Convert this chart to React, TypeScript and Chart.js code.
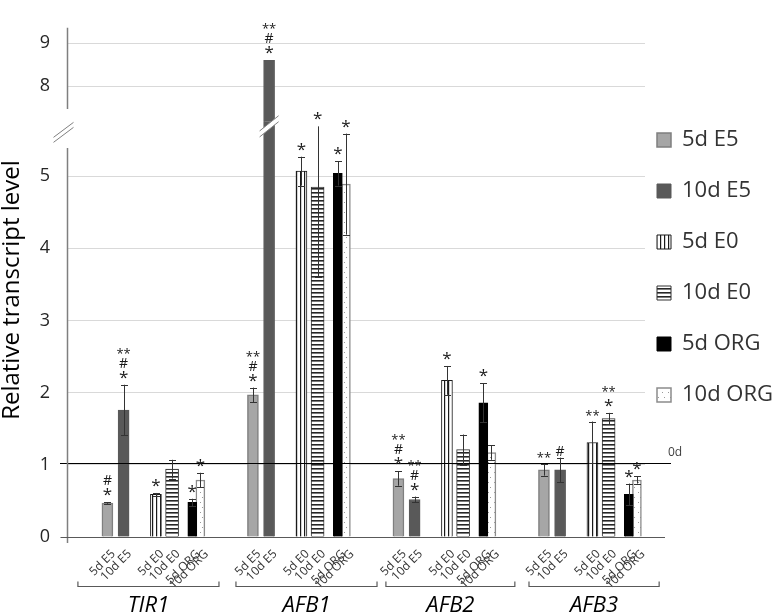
import React, { useEffect, useRef } from 'react';
import { Chart, registerables } from 'chart.js';

Chart.register(...registerables);

// ---------------- data ----------------
const genes = ['TIR1', 'AFB1', 'AFB2', 'AFB3'];
const seriesNames = ['5d E5', '10d E5', '5d E0', '10d E0', '5d ORG', '10d ORG'];

// values per gene (TIR1, AFB1, AFB2, AFB3)
const values5dE5 = [0.47, 1.97, 0.81, 0.93];
const values10dE5 = [1.76, 8.6, 0.52, 0.93];
const values5dE0 = [0.59, 5.07, 2.17, 1.31];
const values10dE0 = [0.94, 4.85, 1.21, 1.64];
const values5dORG = [0.48, 5.04, 1.86, 0.59];
const values10dORG = [0.79, 4.89, 1.17, 0.79];

// standard errors
const err5dE5 = [0.01, 0.1, 0.1, 0.08];
const err10dE5 = [0.35, 0, 0.04, 0.17];
const err5dE0 = [0.02, 0.2, 0.2, 0.29];
const err10dE0 = [0.13, 1.25, 0.21, 0.08];
const err5dORG = [0.05, 0.17, 0.27, 0.15];
const err10dORG = [0.1, 0.7, 0.1, 0.05];

// significance marks (listed top to bottom)
const sig5dE5 = [['#', '*'], ['**', '#', '*'], ['**', '#', '*'], ['**']];
const sig10dE5 = [['**', '#', '*'], ['**', '#', '*'], ['**', '#', '*'], ['#']];
const sig5dE0 = [['*'], ['*'], ['*'], ['**']];
const sig10dE0 = [[], ['*'], [], ['**', '*']];
const sig5dORG = [['*'], ['*'], ['*'], ['*']];
const sig10dORG = [['*'], ['*'], [], ['*']];

const lowerTicks = [0, 1, 2, 3, 4, 5];
const upperTicks = [8, 9];
const referenceLevel = 1.03; // "0d" reference line
const referenceLabel = '0d';
const yTitle = 'Relative transcript level';

// ---------------- layout constants ----------------
const SLOT_COUNT = 144;
const GENE_START = 10;
const GENE_SPAN = 36;
const SLOT_OFFSETS = [0, 4, 12, 16, 21, 23];
const BAR_WIDTHS = [11, 11, 11, 13, 9, 9];
const BRACKETS = [[2.7, 37.6], [41.8, 76.7], [78.9, 110.8], [114.3, 146.5]];
const LOWER_MIN = 0, LOWER_MAX = 5.76;
const UPPER_MIN = 7.18, UPPER_MAX = 9.36;
const LOWER_AXIS_TOP = 5.39, UPPER_AXIS_BOTTOM = 7.47;
const FONT = "'Open Sans', 'Noto Sans', sans-serif";

const allValues = [values5dE5, values10dE5, values5dE0, values10dE0, values5dORG, values10dORG];
const allErrors = [err5dE5, err10dE5, err5dE0, err10dE0, err5dORG, err10dORG];
const allSigs = [sig5dE5, sig10dE5, sig5dE0, sig10dE0, sig5dORG, sig10dORG];

function slotIndex(g: number, k: number) {
  return GENE_START + g * GENE_SPAN + SLOT_OFFSETS[k];
}

function buildLabels() {
  const labels: string[] = new Array(SLOT_COUNT).fill('');
  genes.forEach((_, g) => seriesNames.forEach((n, k) => { labels[slotIndex(g, k)] = n; }));
  return labels;
}

function buildSeriesData(k: number) {
  const arr: (number | null)[] = new Array(SLOT_COUNT).fill(null);
  genes.forEach((_, g) => { arr[slotIndex(g, k)] = allValues[k][g]; });
  return arr;
}

function makePattern(ctx: CanvasRenderingContext2D, kind: string) {
  const c = document.createElement('canvas');
  const g = c.getContext('2d')!;
  if (kind === 'v') {
    c.width = 4; c.height = 4;
    g.fillStyle = '#ffffff'; g.fillRect(0, 0, 4, 4);
    g.fillStyle = '#1a1a1a'; g.fillRect(0, 0, 1.2, 4);
  } else if (kind === 'h') {
    c.width = 4; c.height = 4;
    g.fillStyle = '#ffffff'; g.fillRect(0, 0, 4, 4);
    g.fillStyle = '#262626'; g.fillRect(0, 0, 4, 1.6);
  } else {
    c.width = 6; c.height = 10;
    g.fillStyle = '#ffffff'; g.fillRect(0, 0, 6, 10);
    g.fillStyle = '#9a9a9a'; g.fillRect(2, 2, 1, 1); g.fillRect(4, 7, 1, 1);
  }
  return ctx.createPattern(c, 'repeat')!;
}

const MARK_STYLE: Record<string, { size: number; adv: number }> = {
  '*': { size: 17, adv: 15 },
  '#': { size: 14, adv: 10 },
  '**': { size: 13, adv: 10 },
};

const annotationPlugin = {
  id: 'annotations',
  afterDatasetsDraw(chart: any) {
    const ctx: CanvasRenderingContext2D = chart.ctx;
    const yL = chart.scales.y;
    const yT = chart.scales.yTop;

    // reference line
    const ry = Math.round(yL.getPixelForValue(referenceLevel)) + 0.5;
    ctx.save();
    ctx.strokeStyle = '#000000';
    ctx.lineWidth = 1.2;
    ctx.beginPath();
    ctx.moveTo(yL.right - 7, ry);
    ctx.lineTo(671, ry);
    ctx.stroke();
    ctx.fillStyle = '#404040';
    ctx.font = `12px ${FONT}`;
    ctx.textAlign = 'left';
    ctx.textBaseline = 'middle';
    ctx.fillText(referenceLabel, 668, ry - 11);

    // broken bar marker on tall bars
    seriesNames.forEach((_, k) => {
      const meta = chart.getDatasetMeta(k);
      genes.forEach((__, g) => {
        const v = allValues[k][g];
        if (v <= LOWER_MAX) return;
        const el = meta.data[slotIndex(g, k)];
        if (!el) return;
        const cx = el.x, hw = el.width / 2 + 4;
        const cy = yL.top + 5;
        ctx.fillStyle = '#ffffff';
        ctx.beginPath();
        ctx.moveTo(cx - hw, cy - 3 + 0.8 * hw);
        ctx.lineTo(cx + hw, cy - 3 - 0.8 * hw);
        ctx.lineTo(cx + hw, cy + 3 - 0.8 * hw);
        ctx.lineTo(cx - hw, cy + 3 + 0.8 * hw);
        ctx.closePath();
        ctx.fill();
        ctx.strokeStyle = '#808080';
        ctx.lineWidth = 1;
        [-3, 3].forEach((d) => {
          ctx.beginPath();
          ctx.moveTo(cx - hw, cy + d + 0.8 * hw);
          ctx.lineTo(cx + hw, cy + d - 0.8 * hw);
          ctx.stroke();
        });
      });
    });

    // error bars and significance marks
    seriesNames.forEach((_, k) => {
      const meta = chart.getDatasetMeta(k);
      genes.forEach((__, g) => {
        const el = meta.data[slotIndex(g, k)];
        if (!el) return;
        const v = allValues[k][g];
        const e = allErrors[k][g];
        const sc = v > LOWER_MAX ? yT : yL;
        const x = Math.round(el.x) + 0.5;
        let topPx = sc.getPixelForValue(v);
        ctx.strokeStyle = '#333333';
        ctx.lineWidth = 1;
        if (e > 0) {
          let hi = sc.getPixelForValue(v + e);
          const lo = sc.getPixelForValue(v - e);
          let clipped = false;
          if (hi < sc.top + 5) { hi = sc.top + 5; clipped = true; }
          ctx.beginPath();
          ctx.moveTo(x, lo);
          ctx.lineTo(x, hi);
          if (!clipped) { ctx.moveTo(x - 3.5, Math.round(hi) + 0.5); ctx.lineTo(x + 3.5, Math.round(hi) + 0.5); }
          ctx.moveTo(x - 3.5, Math.round(lo) + 0.5); ctx.lineTo(x + 3.5, Math.round(lo) + 0.5);
          ctx.stroke();
          topPx = Math.min(topPx, hi);
        }
        const marks = allSigs[k][g];
        let base = topPx - 2;
        ctx.fillStyle = '#1a1a1a';
        ctx.textAlign = 'center';
        ctx.textBaseline = 'alphabetic';
        for (let j = marks.length - 1; j >= 0; j--) {
          const st = MARK_STYLE[marks[j]];
          ctx.font = `${st.size}px ${FONT}`;
          ctx.fillText(marks[j], el.x, base);
          base -= st.adv;
        }
      });
    });
    ctx.restore();
  },
  afterDraw(chart: any) {
    const ctx: CanvasRenderingContext2D = chart.ctx;
    const xs = chart.scales.x;
    const yL = chart.scales.y;
    const yT = chart.scales.yTop;
    const ax = Math.round(yL.right) + 0.5;
    ctx.save();
    // y axis lines
    ctx.strokeStyle = '#7f7f7f';
    ctx.lineWidth = 1.5;
    ctx.beginPath();
    ctx.moveTo(ax, yL.getPixelForValue(LOWER_AXIS_TOP));
    ctx.lineTo(ax, yL.bottom + 6);
    ctx.moveTo(ax, yT.top);
    ctx.lineTo(ax, yT.getPixelForValue(UPPER_AXIS_BOTTOM));
    ctx.stroke();
    // axis break marks
    ctx.lineWidth = 1;
    [0, 5].forEach((d) => {
      ctx.beginPath();
      ctx.moveTo(ax - 14, yL.top + 16 + d);
      ctx.lineTo(ax + 6, yL.top + 1 + d);
      ctx.stroke();
    });
    // x baseline
    const by = Math.round(yL.getPixelForValue(0)) + 0.5;
    ctx.strokeStyle = '#595959';
    ctx.lineWidth = 1.2;
    ctx.beginPath();
    ctx.moveTo(ax - 7, by);
    ctx.lineTo(665, by);
    ctx.stroke();

    // gene brackets and names
    const bracketY = yL.bottom + 49.5;
    genes.forEach((name, g) => {
      const x1 = xs.getPixelForValue(BRACKETS[g][0]);
      const x2 = xs.getPixelForValue(BRACKETS[g][1]);
      ctx.strokeStyle = '#595959';
      ctx.lineWidth = 1.2;
      ctx.beginPath();
      ctx.moveTo(x1, bracketY - 5);
      ctx.lineTo(x1, bracketY);
      ctx.lineTo(x2, bracketY);
      ctx.lineTo(x2, bracketY - 5);
      ctx.stroke();
      ctx.fillStyle = '#000000';
      ctx.font = `italic 22px ${FONT}`;
      ctx.textAlign = 'center';
      ctx.textBaseline = 'middle';
      ctx.fillText(name, (x1 + x2) / 2, bracketY + 19);
    });

    // y title
    ctx.translate(12, 290);
    ctx.rotate(-Math.PI / 2);
    ctx.fillStyle = '#000000';
    ctx.font = `24px ${FONT}`;
    ctx.textAlign = 'center';
    ctx.textBaseline = 'middle';
    ctx.fillText(yTitle, 0, 0);
    ctx.restore();
  },
};

export default function App() {
  const ref = useRef<HTMLCanvasElement>(null);

  useEffect(() => {
    const canvas = ref.current!;
    const ctx = canvas.getContext('2d')!;
    const fills: any[] = [
      '#a6a6a6',
      '#595959',
      makePattern(ctx, 'v'),
      makePattern(ctx, 'h'),
      '#000000',
      makePattern(ctx, 'd'),
    ];
    const borders = ['#7f7f7f', '#595959', '#1a1a1a', '#333333', '#000000', '#8c8c8c'];
    const borderWidths = [1.5, 1, 1, 1, 1, 1.5];

    const datasets: any[] = [];
    ['y', 'yTop'].forEach((axisId) => {
      seriesNames.forEach((name, k) => {
        datasets.push({
          label: name,
          data: buildSeriesData(k),
          yAxisID: axisId,
          stack: name,
          backgroundColor: fills[k],
          borderColor: borders[k],
          borderWidth: borderWidths[k],
          barThickness: BAR_WIDTHS[k],
          skipNull: true,
        });
      });
    });

    const yCommon = (ticks: number[]) => ({
      type: 'linear',
      position: 'left',
      stack: 'v',
      stacked: false,
      afterBuildTicks: (s: any) => { s.ticks = ticks.map((v) => ({ value: v })); },
      afterFit: (s: any) => { s.width = 67; },
      grid: { color: '#d9d9d9', lineWidth: 1, drawTicks: false },
      border: { display: false },
      ticks: { padding: 17, font: { size: 18, family: FONT }, color: '#262626' },
    });

    const chart = new Chart(ctx, {
      type: 'bar',
      data: { labels: buildLabels(), datasets },
      options: {
        responsive: false,
        animation: false,
        layout: { padding: { top: 9, left: 0, right: 0, bottom: 0 } },
        plugins: {
          tooltip: { enabled: false },
          legend: {
            position: 'right',
            align: 'start',
            maxWidth: 129,
            title: { display: true, text: '', padding: { top: 98, bottom: 0 }, font: { size: 10, lineHeight: '10px' } },
            labels: {
              boxWidth: 14,
              boxHeight: 14,
              padding: 12,
              color: '#333333',
              font: { size: 22, family: FONT, lineHeight: '39px' },
              generateLabels: (c: any) =>
                Chart.defaults.plugins.legend.labels
                  .generateLabels(c)
                  .filter((l: any) => l.datasetIndex < seriesNames.length)
                  .map((l: any) => ({ ...l, text: [l.text] })),
            },
          },
        },
        scales: {
          x: {
            type: 'category',
            offset: false,
            grid: { display: false },
            border: { display: false },
            afterFit: (s: any) => { s.height = 76; },
            ticks: {
              autoSkip: false,
              maxRotation: 45,
              minRotation: 45,
              padding: 2,
              labelOffset: 6,
              font: { size: 12, family: FONT },
              color: '#333333',
            },
          },
          y: { ...yCommon(lowerTicks), min: LOWER_MIN, max: LOWER_MAX, stackWeight: 431 },
          yTop: { ...yCommon(upperTicks), min: UPPER_MIN, max: UPPER_MAX, stackWeight: 97 },
        },
      } as any,
      plugins: [annotationPlugin],
    });
    return () => chart.destroy();
  }, []);

  return (
    <div style={{ position: 'fixed', left: 0, top: 0, width: 774, height: 613, background: '#ffffff' }}>
      <canvas ref={ref} width={774} height={613} style={{ display: 'block', width: 774, height: 613 }} />
    </div>
  );
}
